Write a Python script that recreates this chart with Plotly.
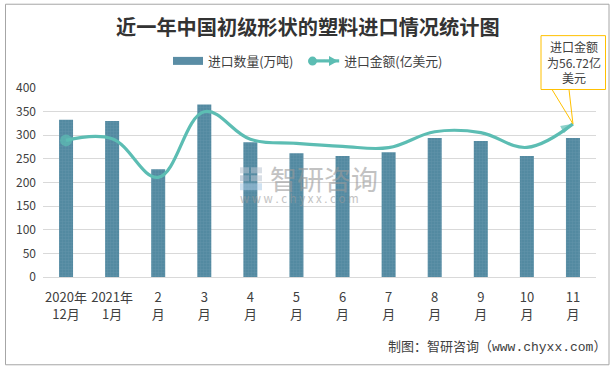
import plotly.graph_objects as go

W, H = 616, 369
L, R, T, B = 43, 596, 87.5, 277

categories = ["2020年<br>12月", "2021年<br>1月", "2<br>月", "3<br>月", "4<br>月", "5<br>月",
              "6<br>月", "7<br>月", "8<br>月", "9<br>月", "10<br>月", "11<br>月"]
quantity = [333, 330, 228, 365, 285, 262, 256, 264, 294, 288, 256, 294]
amount = [50.6, 51.2, 36.9, 61.2, 51.0, 49.5, 48.4, 47.9, 53.8, 53.5, 48.0, 56.72]
y_ticks = [0, 50, 100, 150, 200, 250, 300, 350, 400]

BAR = "#5a8da5"
LINE = "#5cbdb3"
TEXT = "#404040"
FONT = "Noto Sans CJK SC, Microsoft YaHei, sans-serif"
ORANGE = "#ffc000"


def px(v):
    return (v - L) / (R - L)


def py(v):
    return (B - v) / (B - T)


fig = go.Figure()
fig.add_trace(go.Bar(x=categories, y=quantity, name="进口数量(万吨)", width=0.304, showlegend=False,
                     marker=dict(color=BAR, line=dict(width=0),
                                 pattern=dict(shape=".", fgcolor="#6d9cb0", bgcolor="#4f879f",
                                              size=3, solidity=0.5))))
# Legend-only entry so the bar key is a wide, flat swatch as in the reference.
fig.add_trace(go.Scatter(x=[None], y=[None], name="进口数量(万吨)\u00a0\u00a0", mode="lines",
                         line=dict(color=BAR, width=8)))
symbols = ["circle"] * 11 + ["arrow"]
sizes = [12] + [0] * 10 + [13]
fig.add_trace(go.Scatter(x=categories, y=amount, name="进口金额(亿美元)", yaxis="y2",
                         mode="lines+markers",
                         line=dict(color=LINE, width=3.2, shape="spline", smoothing=1.1),
                         marker=dict(color=LINE, symbol=symbols, size=sizes,
                                     angle=[0] * 11 + [62], line=dict(width=0))))

wm_shapes = [
    dict(type="rect", xref="paper", yref="paper", x0=px(x0), x1=px(x1), y0=py(y1), y1=py(y0),
         fillcolor=c, opacity=0.55, line=dict(width=0), layer="above")
    for x0, y0, x1, y1, c in [
        (240, 167, 249, 173, "#b9c4d2"), (251, 167, 262, 173, "#b9c4d2"),
        (240, 175, 249, 181, "#9fb0c4"), (251, 175, 262, 181, "#b9c4d2"),
        (240, 183, 262, 190, "#a9cbe6"),
    ]
]

tip_x = L + (R - L) * (len(categories) - 0.5) / len(categories)
tip_y = B - (B - T) * amount[-1] / 70
callout_tail = f"M {px(552)} {py(89)} L {px(tip_x)} {py(tip_y)} L {px(569)} {py(89)}"

legend_marks = [
    dict(type="circle", xref="paper", yref="paper", x0=px(308), x1=px(317), y0=py(65), y1=py(56),
         fillcolor=LINE, line=dict(width=0), layer="above"),
    dict(type="path", xref="paper", yref="paper",
         path=f"M {px(329)} {py(55.5)} L {px(338)} {py(60.5)} L {px(329)} {py(65.5)} Z",
         fillcolor=LINE, line=dict(width=0), layer="above"),
]

shapes = wm_shapes + legend_marks + [
    dict(type="rect", xref="paper", yref="paper", x0=px(5.5), x1=px(609), y0=py(365), y1=py(3.5),
         line=dict(color="#a6a6a6", width=1), layer="below"),
    dict(type="rect", xref="paper", yref="paper", x0=px(541), x1=px(605.5), y0=py(89), y1=py(35),
         fillcolor="white", line=dict(color=ORANGE, width=1), layer="above"),
    dict(type="path", xref="paper", yref="paper", path=callout_tail,
         line=dict(color=ORANGE, width=1), layer="above"),
]


def note(text, x, y, font, xanchor="center", **kw):
    return dict(text=text, x=px(x), y=py(y), xref="paper", yref="paper", xanchor=xanchor, yanchor="middle",
                showarrow=False, font=font, **kw)


annotations = [
    note("近一年中国初级形状的塑料进口情况统计图", 308, 25.5,
         dict(size=20.2, color="#333333", family=FONT, weight="bold")),
    note("进口金额<br>为56.72亿<br>美元", 573.5, 61, dict(size=12, color=TEXT, family=FONT), align="center"),
    note("制图：智研咨询（www.chyxx.com）", 386, 348,
         dict(size=13, color=TEXT, family="Liberation Mono, Noto Sans CJK SC"), xanchor="left"),
    note("智研咨询", 268, 178, dict(size=27, color="#9a9a9a", family=FONT), xanchor="left", opacity=0.6),
    note("w w w . c h y x x . c o m", 238, 198, dict(size=11.5, color="#9a9a9a", family=FONT),
         xanchor="left", opacity=0.6),
]

fig.update_layout(
    width=W, height=H, autosize=False, paper_bgcolor="white", plot_bgcolor="white",
    margin=dict(l=L, r=W - R, t=T, b=H - B, autoexpand=False),
    font=dict(family=FONT, size=12, color=TEXT),
    showlegend=True, bargap=0.7,
    legend=dict(orientation="h", x=px(168), xanchor="left", xref="paper", y=py(60.5), yref="paper",
                yanchor="middle", font=dict(size=12.8), bgcolor="rgba(0,0,0,0)", itemwidth=30),
    xaxis=dict(type="category", categoryorder="array", categoryarray=categories, showgrid=False,
               range=[-0.5, len(categories) - 0.5],
               showline=True, linecolor="#d9d9d9", linewidth=1, ticks="", tickangle=0,
               tickfont=dict(size=13, color=TEXT), automargin=False, ticklabelstandoff=8),
    yaxis=dict(range=[0, 400], tickvals=y_ticks, gridcolor="#d9d9d9", gridwidth=1, showline=False,
               zeroline=False, ticks="", tickfont=dict(size=12, color=TEXT), automargin=False,
               ticklabelstandoff=6),
    yaxis2=dict(range=[0, 70], overlaying="y", side="right", visible=False, showgrid=False),
    shapes=shapes, annotations=annotations,
)
fig.write_html("out.html", config={"displayModeBar": False},
               post_script="document.body.style.margin='0';document.body.style.overflow='hidden';")
